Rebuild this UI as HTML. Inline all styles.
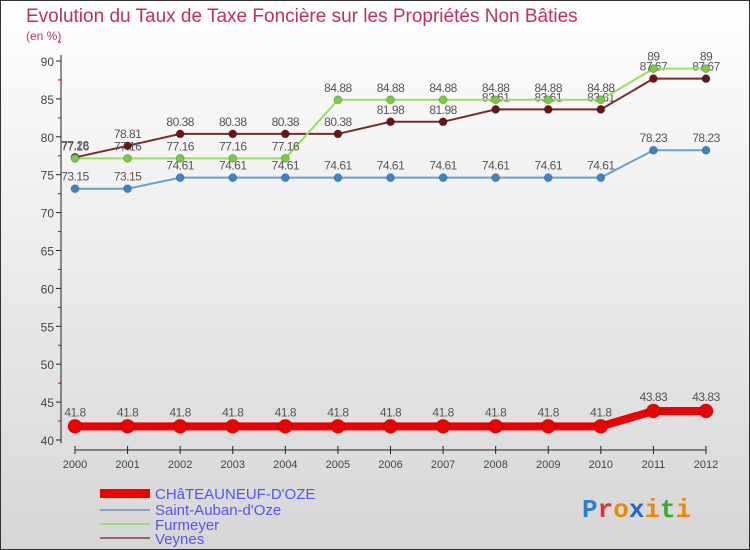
<!DOCTYPE html>
<html><head><meta charset="utf-8"><style>
body{margin:0;width:750px;height:550px;overflow:hidden;font-family:"Liberation Sans",sans-serif}
svg{display:block}
</style></head><body>
<svg id="c" width="750" height="550" xmlns="http://www.w3.org/2000/svg">
<defs><linearGradient id="bg" x1="0" y1="0" x2="0" y2="1"><stop offset="0" stop-color="#ffffff"/><stop offset="1" stop-color="#d6d6d6"/></linearGradient></defs>
<rect x="0.5" y="0.5" width="749" height="549" fill="url(#bg)" stroke="#333"/>
<text x="26" y="22" font-size="19" fill="#c0305a">Evolution du Taux de Taxe Foncière sur les Propriétés Non Bâties</text>
<text x="26" y="40" font-size="12" fill="#c0305a">(en %)</text>
<g id="axes"></g><g id="series"></g>
<g>
<rect x="100" y="489" width="50" height="9" fill="#e00"/>
<text x="155" y="499" font-size="15" fill="#5555ee">CHâTEAUNEUF-D'OZE</text>
<rect x="100" y="509" width="50" height="2" fill="#7aa8cc"/>
<text x="155" y="515" font-size="15" fill="#5555ee">Saint-Auban-d'Oze</text>
<rect x="100" y="523" width="50" height="2" fill="#99dd77"/>
<text x="155" y="530" font-size="15" fill="#5555ee">Furmeyer</text>
<rect x="100" y="537" width="50" height="2" fill="#996666"/>
<text x="155" y="544" font-size="15" fill="#5555ee">Veynes</text>
</g>
<text x="582" y="517" font-size="26" font-weight="bold" font-family="Liberation Mono,monospace"><tspan fill="#2a7fd0">P</tspan><tspan fill="#dd3333">r</tspan><tspan fill="#ee8800">o</tspan><tspan fill="#2266cc">x</tspan><tspan fill="#ee8800">i</tspan><tspan fill="#33aa33">t</tspan><tspan fill="#ee8800">i</tspan></text>
</svg>
<script>
const years=[2000,2001,2002,2003,2004,2005,2006,2007,2008,2009,2010,2011,2012];
const yTicks=[40,45,50,55,60,65,70,75,80,85,90];
const chateauneuf=[41.8,41.8,41.8,41.8,41.8,41.8,41.8,41.8,41.8,41.8,41.8,43.83,43.83];
const saintAuban=[73.15,73.15,74.61,74.61,74.61,74.61,74.61,74.61,74.61,74.61,74.61,78.23,78.23];
const furmeyer=[77.16,77.16,77.16,77.16,77.16,84.88,84.88,84.88,84.88,84.88,84.88,89,89];
const veynes=[77.28,78.81,80.38,80.38,80.38,80.38,81.98,81.98,83.61,83.61,83.61,87.67,87.67];
const NS="http://www.w3.org/2000/svg";
const X=i=>75+i*(706-75)/(years.length-1);
const Y=v=>440-(v-40)*(440-61)/50;
function mk(t,a,p){const e=document.createElementNS(NS,t);for(const k in a)e.setAttribute(k,a[k]);p.appendChild(e);return e;}
const ax=document.getElementById('axes');
const yl=mk('line',{x1:61,y1:55,x2:61,y2:443,stroke:'#222'},ax);


const xl=mk('line',{x1:75,y1:450,x2:706,y2:450,stroke:'#222'},ax);


yTicks.forEach(v=>{
 mk('line',{x1:56,y1:Y(v),x2:61,y2:Y(v),stroke:'#222'},ax);
 mk('line',{x1:58,y1:Y(v+2.5),x2:61,y2:Y(v+2.5),stroke:'#c00'},ax);
 const t=mk('text',{x:54,y:Y(v)+5,'font-size':12,fill:'#444','text-anchor':'end'},ax);t.textContent=v;
 
 
});
years.forEach((yr,i)=>{
 mk('line',{x1:X(i),y1:446,x2:X(i),y2:454,stroke:'#222'},ax);
 const t=mk('text',{x:X(i),y:468,'font-size':11,fill:'#444','text-anchor':'middle'},ax);t.textContent=yr;
 
 
});
const sg=document.getElementById('series');
function series(vals,color,dot,w,r,name){
 const g=mk('g',{},sg);
 
 
 mk('polyline',{points:vals.map((v,i)=>X(i)+','+Y(v)).join(' '),fill:'none',stroke:color,'stroke-width':w},g);
 vals.forEach((v,i)=>{
  const c=mk('circle',{cx:X(i),cy:Y(v),r:r,fill:dot,stroke:'#0003'},g);
  
  
  const t=mk('text',{x:X(i),y:Y(v)-(w>4?10:8),'font-size':12,fill:'#555','text-anchor':'middle','letter-spacing':'-0.5'},g);t.textContent=v;
 });
}
series(veynes,'#7a2a2a','#6a1515',2,4,'veynes-series');
series(furmeyer,'#99dd66','#77cc44',2,4,'furmeyer-series');
series(saintAuban,'#6aa0cc','#3a85c8',2,4,'saint-auban-series');
series(chateauneuf,'#ee0000','#ee0000',8,7,'chateauneuf-series');
</script>
</body></html>
